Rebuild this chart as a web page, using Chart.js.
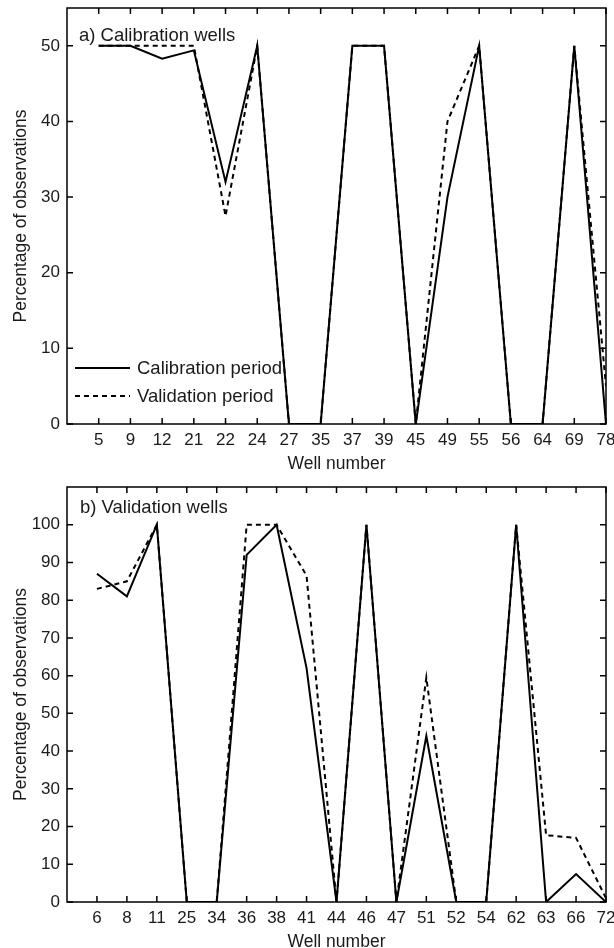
<!DOCTYPE html>
<html>
<head>
<meta charset="utf-8">
<title>Percentage of observations by well</title>
<script src="https://cdn.jsdelivr.net/npm/chart.js@4.4.1/dist/chart.umd.min.js"></script>
<style>
  html, body { margin: 0; padding: 0; background: #fff; }
  .panel { position: relative; width: 614px; height: 474px; }
</style>
</head>
<body>
<div class="panel"><canvas id="calibrationChart"></canvas></div>
<div class="panel"><canvas id="validationChart"></canvas></div>
<script>
// a) Calibration wells
const calibWells = ["5", "9", "12", "21", "22", "24", "27", "35", "37", "39", "45", "49", "55", "56", "64", "69", "78"];
const calibWellsCalPeriod = [50, 50, 48.3, 49.4, 32, 50, 0, 0, 50, 50, 0, 30, 50, 0, 0, 50, 0];
const calibWellsValPeriod = [50, 50, 50, 50, 27.5, 50, 0, 0, 50, 50, 0, 40, 50, 0, 0, 50, 5];
const calibYTicks = [0, 10, 20, 30, 40, 50];

// b) Validation wells
const validWells = ["6", "8", "11", "25", "34", "36", "38", "41", "44", "46", "47", "51", "52", "54", "62", "63", "66", "72"];
const validWellsCalPeriod = [87, 81, 100, 0, 0, 92, 100, 62, 0, 100, 0, 44, 0, 0, 100, 0, 7.4, 0];
const validWellsValPeriod = [83, 85, 100, 0, 0, 100, 100, 86.5, 0, 100, 0, 59.5, 0, 0, 100, 17.7, 17, 1];
const validYTicks = [0, 10, 20, 30, 40, 50, 60, 70, 80, 90, 100];

const seriesNames = ["Calibration period", "Validation period"];

Chart.defaults.font.family = "'Liberation Sans', Arial, sans-serif";
Chart.defaults.color = "#1a1a1a";

// box round the plot with inward tick marks on all four sides
const frameTicks = {
  id: "frameTicks",
  afterDatasetsDraw(chart) {
    const { ctx, chartArea: a, scales } = chart;
    const len = 6;
    ctx.save();
    ctx.strokeStyle = "#000";
    ctx.lineWidth = 1.5;
    ctx.strokeRect(a.left, a.top, a.right - a.left, a.bottom - a.top);
    ctx.beginPath();
    scales.x.ticks.forEach(function (t) {
      const x = scales.x.getPixelForValue(t.value);
      ctx.moveTo(x, a.bottom);
      ctx.lineTo(x, a.bottom - len);
      ctx.moveTo(x, a.top);
      ctx.lineTo(x, a.top + len);
    });
    scales.y.ticks.forEach(function (t) {
      const y = scales.y.getPixelForValue(t.value);
      ctx.moveTo(a.left, y);
      ctx.lineTo(a.left + len, y);
      ctx.moveTo(a.right, y);
      ctx.lineTo(a.right - len, y);
    });
    ctx.stroke();
    ctx.restore();
  },
};

// panel caption and legend, both inside the plot area
const insideText = {
  id: "insideText",
  afterDraw(chart, args, opts) {
    const ctx = chart.ctx;
    ctx.save();
    ctx.fillStyle = "#1a1a1a";
    ctx.font = "18.5px 'Liberation Sans', Arial, sans-serif";
    ctx.textBaseline = "alphabetic";
    ctx.fillText(opts.caption, opts.captionX, opts.captionY);

    if (opts.legend) {
      const lg = opts.legend;
      chart.data.datasets.forEach(function (ds, i) {
        const y = lg.y + i * lg.rowGap;
        ctx.strokeStyle = ds.borderColor;
        ctx.lineWidth = ds.borderWidth;
        ctx.setLineDash(ds.borderDash || []);
        ctx.beginPath();
        ctx.moveTo(lg.x, y);
        ctx.lineTo(lg.x + lg.lineLen, y);
        ctx.stroke();
        ctx.setLineDash([]);
        ctx.textBaseline = "middle";
        ctx.fillText(ds.label, lg.x + lg.lineLen + 7, y + 1);
      });
    }
    ctx.restore();
  },
};

function makeChart(canvasId, wells, calValues, valValues, yTicks, yMax, layout) {
  const ctx = document.getElementById(canvasId).getContext("2d");
  return new Chart(ctx, {
    type: "line",
    data: {
      datasets: [
        {
          label: seriesNames[0],
          data: calValues.map(function (v, i) { return { x: i, y: v }; }),
          borderColor: "#000",
          borderWidth: 2,
          pointRadius: 0,
          tension: 0,
        },
        {
          label: seriesNames[1],
          data: valValues.map(function (v, i) { return { x: i, y: v }; }),
          borderColor: "#000",
          borderWidth: 2,
          borderDash: [5, 4],
          pointRadius: 0,
          tension: 0,
        },
      ],
    },
    plugins: [frameTicks, insideText],
    options: {
      responsive: true,
      maintainAspectRatio: false,
      animation: false,
      layout: { padding: { top: layout.top, right: 8, bottom: 0, left: 0 } },
      plugins: {
        legend: { display: false },
        tooltip: { enabled: false },
        insideText: layout.text,
      },
      scales: {
        x: {
          type: "linear",
          min: -1,
          max: wells.length - 1,
          grid: { display: false, drawTicks: false },
          border: { display: false },
          afterBuildTicks: function (scale) {
            scale.ticks = wells.map(function (w, i) { return { value: i }; });
          },
          afterFit: function (scale) {
            scale.height = layout.xHeight;
            scale.paddingLeft = 0;
            scale.paddingRight = 0;
          },
          ticks: {
            autoSkip: false,
            maxRotation: 0,
            padding: 6,
            font: { size: 17 },
            callback: function (value) { return wells[value]; },
          },
          title: {
            display: true,
            text: "Well number",
            font: { size: 17.5 },
            padding: { top: 0, bottom: layout.xTitlePad },
          },
        },
        y: {
          min: 0,
          max: yMax,
          grid: { display: false, drawTicks: false },
          border: { display: false },
          afterBuildTicks: function (scale) {
            scale.ticks = yTicks.map(function (v) { return { value: v }; });
          },
          afterFit: function (scale) {
            scale.width = 67;
            scale.paddingTop = 0;
            scale.paddingBottom = 0;
          },
          ticks: {
            padding: 7,
            font: { size: 17 },
          },
          title: {
            display: true,
            text: "Percentage of observations",
            font: { size: 17.5 },
            padding: { top: 11, bottom: 0 },
          },
        },
      },
    },
  });
}

document.addEventListener("DOMContentLoaded", function () {
  // a) Calibration wells
  makeChart("calibrationChart", calibWells, calibWellsCalPeriod, calibWellsValPeriod, calibYTicks, 55, {
    top: 8,
    xHeight: 50,
    xTitlePad: -1,
    text: {
      caption: "a) Calibration wells",
      captionX: 79,
      captionY: 41,
      legend: { x: 75, y: 368, rowGap: 28, lineLen: 55 },
    },
  });

  // b) Validation wells
  makeChart("validationChart", validWells, validWellsCalPeriod, validWellsValPeriod, validYTicks, 110, {
    top: 13,
    xHeight: 46,
    xTitlePad: -5,
    text: {
      caption: "b) Validation wells",
      captionX: 80,
      captionY: 39,
      legend: null,
    },
  });
});
</script>
</body>
</html>
